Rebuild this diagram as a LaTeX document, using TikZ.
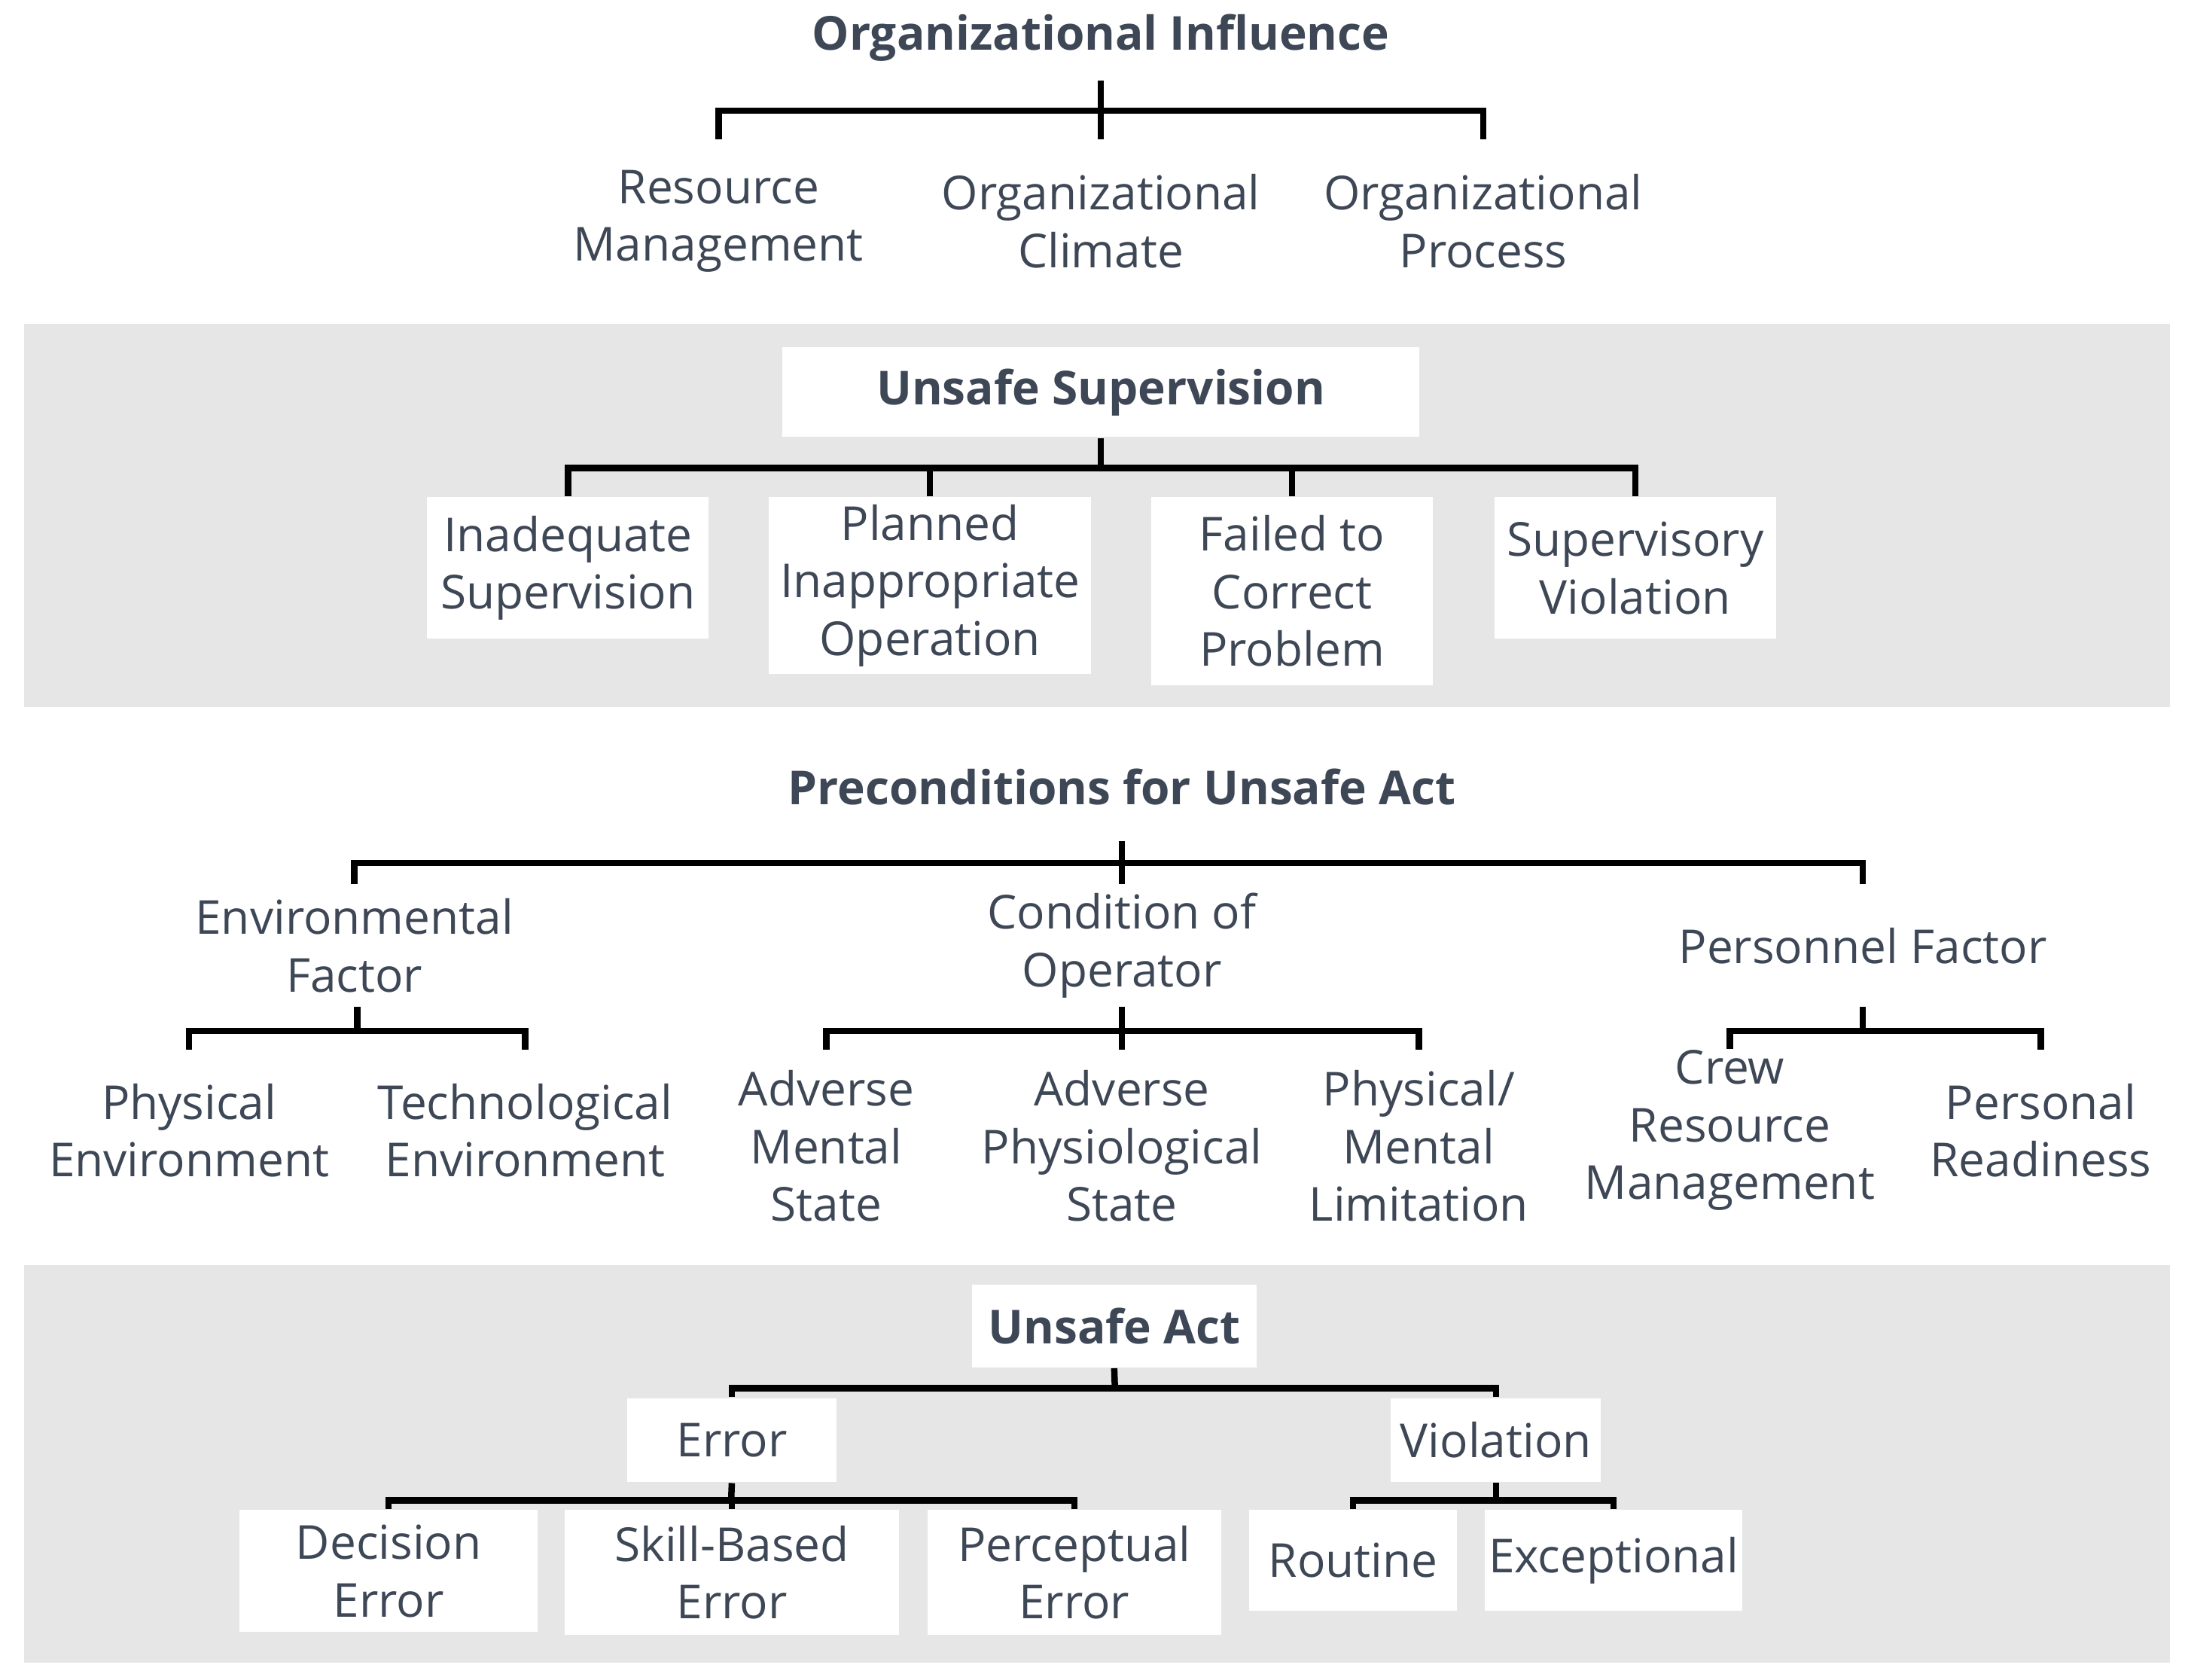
\documentclass[tikz,border=0pt]{standalone}
\usepackage{fontspec}
\setmainfont{Open Sans}
\definecolor{txt}{HTML}{3E4756}
\definecolor{band}{HTML}{E7E6E6}
\begin{document}
\begin{tikzpicture}[x=0.01cm,y=-0.01cm,
  every node/.style={font=\fontsize{9.5}{11.7}\selectfont,text=txt,align=center,inner sep=0pt},
  ttl/.style={font=\fontsize{9.5}{11.7}\selectfont\bfseries},
  bx/.style 2 args={fill=white,minimum width=#1*0.01cm,minimum height=#2*0.01cm},
  tx/.style 2 args={minimum width=#1*0.01cm,minimum height=#2*0.01cm},
  ln/.style={line width=1.3pt,black}]
\useasboundingbox (0,0) rectangle (1560,1199);
\fill[band] (17,231) rectangle (1549,505);
\fill[band] (17,903) rectangle (1549,1187);
% Organizational influence
\node[ttl,tx={380}{60}] (oi) at (786,27) {Organizational Influence};
\node[tx={210}{116}] (rm) at (513,158) {Resource\\Management};
\node[tx={230}{116}] (oc) at (786,158) {Organizational\\Climate};
\node[tx={230}{116}] (op) at (1059,158) {Organizational\\Process};
\draw[ln] (oi.south) -- (oc.north);
\draw[ln] (rm.north) -- (rm.north|-0,79) -- (op.north|-0,79) -- (op.north);
% Unsafe supervision
\node[ttl,bx={455}{64}] (us) at (786,280) {Unsafe Supervision};
\coordinate (usb) at (786,334);
\node[bx={201}{101}] (is) at (405.5,405.5) {Inadequate\\Supervision};
\node[bx={230}{126}] (pio) at (664,418) {Planned\\Inappropriate\\Operation};
\node[bx={201}{134}] (fcp) at (922.5,422) {Failed to\\Correct\\Problem};
\node[bx={201}{101}] (sv) at (1167.5,405.5) {Supervisory\\Violation};
\draw[ln] (us.south) -- (usb);
\draw[ln] (is.north) -- (is.north|-usb) -- (sv.north|-usb) -- (sv.north);
\draw[ln] (pio.north) -- (pio.north|-usb);
\draw[ln] (fcp.north) -- (fcp.north|-usb);
% Preconditions
\node[ttl,tx={460}{76}] (pc) at (801,562) {Preconditions for Unsafe Act};
\coordinate (pcb) at (801,616);
\node[tx={240}{86}] (ef) at (253,675) {Environmental\\Factor};
\node[tx={240}{86}] (co) at (801,675) {Condition of\\Operator};
\node[tx={280}{86}] (pf) at (1330,675) {Personnel Factor};
\draw[ln] (pc.south) -- (co.north);
\draw[ln] (ef.north) -- (ef.north|-pcb) -- (pf.north|-pcb) -- (pf.north);
\coordinate (efb) at (255,736);
\node[tx={220}{114}] (pe) at (135,807) {Physical\\Environment};
\node[tx={220}{114}] (te) at (375,807) {Technological\\Environment};
\draw[ln] (ef.south-|efb) -- (efb);
\draw[ln] (pe.north) -- (pe.north|-efb) -- (te.north|-efb) -- (te.north);
\coordinate (cob) at (801,736);
\node[tx={150}{136}] (ams) at (590,818) {Adverse\\Mental\\State};
\node[tx={200}{136}] (aps) at (801,818) {Adverse\\Physiological\\State};
\node[tx={170}{136}] (pml) at (1013,818) {Physical/\\Mental\\Limitation};
\draw[ln] (co.south) -- (aps.north);
\draw[ln] (ams.north) -- (ams.north|-cob) -- (pml.north|-cob) -- (pml.north);
\coordinate (pfb) at (1330,736);
\node[tx={210}{114}] (crm) at (1235,807) {Crew\\Resource\\Management};
\node[tx={160}{114}] (pr) at (1457,807) {Personal\\Readiness};
\draw[ln] (pf.south) -- (pfb);
\draw[ln] (crm.north) -- (crm.north|-pfb) -- (pr.north|-pfb) -- (pr.north);
% Unsafe act
\node[ttl,bx={203}{59}] (ua) at (795.5,946.5) {Unsafe Act};
\node[bx={149}{60}] (er) at (522.5,1028) {Error};
\node[bx={150}{60}] (vi) at (1068,1028) {Violation};
\node[bx={213}{87}] (de) at (277.5,1121.5) {Decision\\Error};
\node[bx={239}{89}] (sbe) at (522.5,1122.5) {Skill-Based\\Error};
\node[bx={210}{89}] (pe2) at (767,1122.5) {Perceptual\\Error};
\node[bx={148}{72}] (ro) at (966,1114) {Routine};
\node[bx={184}{72}] (ex) at (1152,1114) {Exceptional};
\coordinate (uab) at (796,991);
\coordinate (erb) at (522,1071);
\coordinate (vib) at (1068,1071);
\draw[ln] (ua.south) -- (uab);
\draw[ln] (er.north) -- (er.north|-uab) -- (vi.north|-uab) -- (vi.north);
\draw[ln] (er.south) -- (erb);
\draw[ln] (de.north) -- (de.north|-erb) -- (pe2.north|-erb) -- (pe2.north);
\draw[ln] (sbe.north) -- (sbe.north|-erb);
\draw[ln] (vi.south) -- (vib);
\draw[ln] (ro.north) -- (ro.north|-vib) -- (ex.north|-vib) -- (ex.north);
\end{tikzpicture}
\end{document}
